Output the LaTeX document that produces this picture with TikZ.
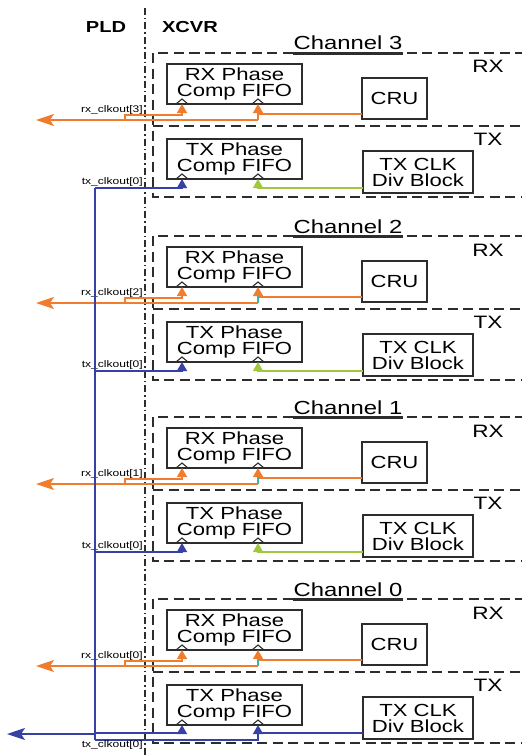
\documentclass[tikz,border=0pt]{standalone}
\usepackage{fontspec}
\setmainfont{Liberation Sans}[FakeStretch=1.26]
\usepackage{xcolor}
\definecolor{clkorange}{RGB}{240,125,45}
\definecolor{clkblue}{RGB}{55,65,165}
\definecolor{clkgreen}{RGB}{160,200,60}
\definecolor{clkteal}{RGB}{60,180,160}
\definecolor{boxgray}{RGB}{45,45,45}
\usetikzlibrary{arrows.meta}
\tikzset{
  blk/.style={rectangle,draw=boxgray,line width=1.4bp,
    inner sep=0pt,align=center,
    font=\fontsize{17.6}{16}\selectfont},
  fifo/.style={blk,minimum width=135bp,minimum height=40bp},
  region/.style={draw=boxgray,line width=2.8bp,
    dash pattern=on 10bp off 5.5bp},
  border/.style={draw=boxgray,line width=2.4bp,
    dash pattern=on 7bp off 3bp on 1.5bp off 3bp},
  sidelbl/.style={font=\fontsize{18}{18}\selectfont,inner sep=0pt,anchor=base},
  chlbl/.style={font=\fontsize{19}{19}\selectfont,inner sep=0pt,anchor=base},
  pinlbl/.style={font=\fontsize{9.6}{10}\selectfont,inner sep=0pt,anchor=base east},
  clkin/.style={-{Triangle[length=9bp,width=10bp]},line width=1.4bp},
  outarr/.style={-{Stealth[length=18bp,width=12bp,inset=4bp]},line width=1.6bp},
  chev/.style={draw=boxgray,line width=1.1bp},
}

\begin{document}
\begin{tikzpicture}[x=1bp,y=-1bp]
  \useasboundingbox (0,0) rectangle (522,755);

  % --- PLD / XCVR boundary ---
  \node[font=\fontsize{16}{16}\selectfont\bfseries,inner sep=0pt,anchor=base]
    (pld) at (106,33) {PLD};
  \node[font=\fontsize{16}{16}\selectfont\bfseries,inner sep=0pt,anchor=base]
    (xcvr) at (190,33) {XCVR};
  \draw[border] (145,8) -- (145,760);

  % --- Channels 3..0 ---
  \foreach \n/\T in {3/0,2/183,1/364,0/546}{
    \begin{scope}[shift={(0,\T)}]
      % channel frame
      \node[chlbl] (ch\n) at (348,50) {Channel \n};
      \draw[region] (525,53) -- (153,53) -- (153,197) -- (525,197);
      \draw[region] (153,126) -- (525,126);
      \draw[boxgray,line width=2.4bp]
        ([yshift=-3bp]ch\n.south west) -- ([yshift=-3bp]ch\n.south east);
      \node[sidelbl] (rxt\n) at (488,73) {RX};
      \node[sidelbl] (txt\n) at (488,145) {TX};

      % blocks
      \node[fifo] (rxf\n) at (234.5,84) {RX Phase\\Comp FIFO};
      \node[blk,minimum width=65bp,minimum height=41bp] (cru\n) at (394.5,98.5) {CRU};
      \node[fifo] (txf\n) at (234.5,159) {TX Phase\\Comp FIFO};
      \node[blk,minimum width=110bp,minimum height=42bp] (div\n) at (418,172)
        {TX CLK\\Div Block};

      % clock pins
      \coordinate (rd\n)  at (182,104);
      \coordinate (wr\n)  at (258,104);
      \coordinate (trd\n) at (182,179);
      \coordinate (twr\n) at (258,179);
      \foreach \p in {rd,wr,trd,twr}
        \draw[chev] (\p\n) ++(-6,0) -- ++(6,-5) -- ++(6,5);

      % rx clock routing
      \coordinate (cruo\n) at (362,114);
      \coordinate (tap\n)  at (125,120);
      \coordinate (rxo\n)  at (36,120);
      \ifnum\n=3 \def\tapcol{clkorange}\else\def\tapcol{clkteal}\fi
      \draw[clkorange,clkin] (cruo\n) -| (wr\n);
      \draw[\tapcol,line width=1.4bp] (wr\n) ++(0,9) -- ++(0,7);
      \draw[clkorange,outarr] (wr\n) ++(0,16) -- (rxo\n);
      \draw[clkorange,clkin] (tap\n) -- ++(0,-5) -| (rd\n);
      \node[pinlbl] (rxl\n) at (143,112) {rx\_clkout[\n]};

      % tx clock routing
      \ifnum\n=0
        \coordinate (divo\n) at (363,187);
        \coordinate (bus\n)  at (95,187);
        \coordinate (busend) at (95,194);
        \coordinate (txo)    at (7,188);
        \draw[clkblue,clkin] (divo\n) -| (twr\n);
        \draw[clkblue,line width=1.2bp] (twr\n) ++(0,8) |- (busend);
        \draw[clkblue,clkin] (bus\n) -| (trd\n);
        \draw[clkblue,outarr] (bus\n) ++(0,1) -- (txo);
        \node[pinlbl] (txl\n) at (143,201) {tx\_clkout[0]};
      \else
        \coordinate (divo\n) at (363,188);
        \coordinate (bus\n)  at (95,188);
        \draw[clkgreen,clkin] (divo\n) -| (twr\n);
        \draw[clkblue,clkin] (bus\n) -| (trd\n);
        \node[pinlbl] (txl\n) at (143,184) {tx\_clkout[0]};
      \fi
    \end{scope}
  }

  % --- tx_clkout[0] distribution bus ---
  \draw[clkblue,line width=1.2bp] (bus3) -- (busend);
\end{tikzpicture}
\end{document}
